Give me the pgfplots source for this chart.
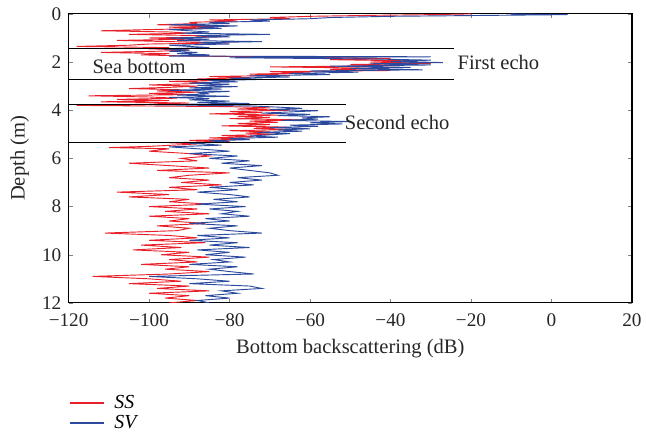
\documentclass[border=0pt]{standalone}
\usepackage{fontspec}
\setmainfont{Liberation Serif}
\usepackage{pgfplots}
\pgfplotsset{compat=1.18}
\definecolor{ssred}{HTML}{E8202A}
\definecolor{svblue}{HTML}{2B4A9E}

\begin{document}
\begin{tikzpicture}
\begin{axis}[
  scale only axis,
  width=425pt, height=218pt,
  xmin=-120, xmax=20, ymin=0, ymax=12,
  y dir=reverse,
  xtick={-120,-100,-80,-60,-40,-20,0,20},
  xticklabels={−120,−100,−80,−60,−40,−20,0,20},
  ytick={0,2,4,6,8,10,12},
  tick pos=both, tick align=inside,
  major tick length=3pt,
  /pgf/number format/assume math mode=true,
  tick label style={font=\fontsize{14.5}{16}\selectfont, text=black!85},
  xticklabel style={yshift=-5pt},
  yticklabel style={xshift=-2pt},
  label style={font=\fontsize{15.5}{17}\selectfont, text=black!85},
  xlabel={Bottom backscattering (dB)},
  ylabel={Depth (m)},
  xlabel style={yshift=-2pt},
  ylabel style={yshift=3pt},
  axis line style={black, line width=0.8pt},
  legend style={at={(0,-0.30)}, anchor=north west, draw=none, fill=none,
    font=\fontsize{15}{17}\selectfont\itshape, row sep=0pt, column sep=5pt, inner xsep=0pt},
  legend cell align=left,
]
\addplot[draw=ssred, line width=0.7pt, forget plot] coordinates {
(-20,0.00) (-30,0.03) (-45,0.06) (-60,0.10) (-70,0.15) (-65,0.20) (-85,0.25) (-78,0.30)
(-90,0.35) (-88,0.40) (-98,0.45) (-80,0.50) (-95,0.55) (-85,0.60) (-100,0.65) (-112,0.70)
(-95,0.75) (-90,0.80) (-105,0.85) (-88,0.90) (-82,0.95) (-100,1.00) (-90,1.05) (-108,1.10)
(-95,1.15) (-80,1.20) (-100,1.25) (-105,1.30) (-118,1.35) (-95,1.40) (-100,1.45) (-90,1.50)
(-98,1.55) (-112,1.60) (-95,1.65) (-102,1.70) (-90,1.75) (-60,1.80) (-40,1.85) (-55,1.90)
(-35,1.95) (-45,2.00) (-30,2.05) (-50,2.10) (-38,2.15) (-70,2.20) (-45,2.25) (-55,2.30)
(-40,2.35) (-70,2.40) (-60,2.45) (-75,2.50) (-65,2.55) (-85,2.60) (-75,2.65) (-88,2.70)
(-80,2.75) (-95,2.80) (-85,2.85) (-90,2.90) (-100,2.95) (-88,3.00) (-95,3.05) (-105,3.10)
(-92,3.15) (-98,3.20) (-88,3.25) (-100,3.30) (-90,3.35) (-115,3.40) (-100,3.45) (-93,3.50)
(-108,3.55) (-95,3.60) (-112,3.65) (-90,3.70) (-100,3.75) (-118,3.80) (-80,3.85) (-70,3.90)
(-78,3.95) (-65,4.00) (-80,4.05) (-72,4.10) (-85,4.15) (-68,4.20) (-78,4.25) (-70,4.30)
(-80,4.35) (-62,4.40) (-75,4.45) (-68,4.50) (-78,4.55) (-70,4.60) (-82,4.65) (-66,4.70)
(-74,4.75) (-64,4.80) (-80,4.85) (-70,4.90) (-76,4.95) (-68,5.00) (-82,5.05) (-74,5.10)
(-85,5.15) (-75,5.20) (-90,5.25) (-80,5.30) (-95,5.35) (-88,5.40) (-100,5.50) (-110,5.55)
(-95,5.60) (-100,5.70) (-90,5.80) (-85,5.90) (-92,6.00) (-88,6.10) (-105,6.20) (-95,6.30)
(-85,6.40) (-98,6.50) (-80,6.60) (-90,6.70) (-95,6.80) (-85,6.90) (-92,7.00) (-82,7.10)
(-95,7.20) (-88,7.30) (-108,7.40) (-95,7.50) (-105,7.60) (-90,7.70) (-95,7.80) (-85,7.90)
(-100,8.00) (-88,8.10) (-96,8.20) (-85,8.30) (-100,8.40) (-90,8.50) (-95,8.60) (-86,8.70)
(-98,8.80) (-90,8.90) (-93,9.00) (-111,9.10) (-95,9.20) (-88,9.30) (-100,9.40) (-86,9.50)
(-102,9.60) (-92,9.70) (-104,9.80) (-90,9.90) (-97,10.00) (-85,10.10) (-95,10.20) (-88,10.30)
(-102,10.40) (-90,10.50) (-96,10.60) (-85,10.70) (-95,10.80) (-114,10.90) (-100,11.00) (-92,11.10)
(-105,11.20) (-90,11.30) (-98,11.40) (-85,11.50) (-100,11.60) (-90,11.70) (-96,11.80) (-88,11.90)
(-95,12.00)};
\addplot[draw=svblue, line width=0.7pt, forget plot] coordinates {
(-10,0.00) (4,0.03) (-15,0.06) (-40,0.10) (-55,0.15) (-60,0.20) (-75,0.25) (-70,0.30)
(-85,0.35) (-80,0.40) (-95,0.45) (-78,0.50) (-88,0.55) (-82,0.60) (-95,0.65) (-90,0.70)
(-85,0.75) (-92,0.80) (-70,0.85) (-88,0.90) (-80,0.95) (-95,1.00) (-85,1.05) (-93,1.10)
(-72,1.15) (-88,1.20) (-80,1.25) (-95,1.30) (-90,1.35) (-85,1.40) (-97,1.45) (-90,1.50)
(-95,1.55) (-88,1.60) (-93,1.65) (-85,1.70) (-95,1.75) (-30,1.78) (-80,1.82) (-45,1.87)
(-30,1.92) (-40,1.97) (-27,2.02) (-45,2.07) (-30,2.12) (-55,2.17) (-35,2.22) (-50,2.27)
(-32,2.32) (-60,2.37) (-48,2.42) (-65,2.47) (-55,2.52) (-75,2.57) (-65,2.62) (-80,2.67)
(-72,2.72) (-85,2.77) (-78,2.82) (-90,2.87) (-80,2.92) (-88,2.97) (-78,3.02) (-90,3.07)
(-82,3.12) (-95,3.17) (-80,3.22) (-88,3.27) (-85,3.32) (-93,3.37) (-80,3.42) (-95,3.47)
(-85,3.52) (-90,3.57) (-80,3.62) (-88,3.67) (-75,3.72) (-100,3.77) (-75,3.82) (-68,3.87)
(-62,3.92) (-70,3.97) (-58,4.02) (-65,4.07) (-72,4.12) (-60,4.17) (-68,4.22) (-55,4.27)
(-62,4.32) (-58,4.37) (-67,4.42) (-50,4.47) (-60,4.52) (-52,4.57) (-65,4.62) (-58,4.67)
(-70,4.72) (-60,4.77) (-68,4.82) (-62,4.87) (-73,4.92) (-65,4.97) (-70,5.02) (-75,5.07)
(-68,5.12) (-80,5.17) (-75,5.22) (-85,5.27) (-80,5.32) (-90,5.37) (-82,5.45) (-95,5.52)
(-88,5.60) (-80,5.70) (-90,5.80) (-78,5.90) (-85,6.00) (-75,6.10) (-82,6.20) (-72,6.30)
(-80,6.40) (-75,6.50) (-70,6.60) (-68,6.70) (-78,6.80) (-72,6.90) (-80,7.00) (-74,7.10)
(-85,7.20) (-78,7.30) (-88,7.40) (-80,7.50) (-75,7.60) (-84,7.70) (-78,7.80) (-88,7.90)
(-76,8.00) (-85,8.10) (-78,8.20) (-82,8.30) (-75,8.40) (-86,8.50) (-80,8.60) (-90,8.70)
(-78,8.80) (-85,8.90) (-80,9.00) (-72,9.10) (-88,9.20) (-80,9.30) (-90,9.40) (-78,9.50)
(-85,9.60) (-75,9.70) (-88,9.80) (-80,9.90) (-86,10.00) (-76,10.10) (-84,10.20) (-80,10.30)
(-90,10.40) (-78,10.50) (-85,10.60) (-80,10.70) (-74,10.80) (-100,10.90) (-88,11.00) (-80,11.10)
(-90,11.20) (-75,11.30) (-72,11.40) (-82,11.50) (-78,11.60) (-86,11.70) (-80,11.80) (-88,11.90)
(-85,12.00)};
\addlegendimage{legend image code/.code={\draw[draw=ssred, line width=1.3pt] (0pt,0pt) -- (26pt,0pt);}}
\addlegendentry{SS}
\addlegendimage{legend image code/.code={\draw[draw=svblue, line width=1.3pt] (0pt,0pt) -- (26pt,0pt);}}
\addlegendentry{SV}
\draw[black, line width=0.6pt] (axis cs:-120,1.44) -- (axis cs:-24.3,1.44);
\draw[black, line width=0.6pt] (axis cs:-120,2.70) -- (axis cs:-24.3,2.70);
\draw[black, line width=0.6pt] (axis cs:-120,3.74) -- (axis cs:-51,3.74);
\draw[black, line width=0.6pt] (axis cs:-120,5.35) -- (axis cs:-51,5.35);
\node[font=\fontsize{15.5}{17}\selectfont, text=black!85] at (axis cs:-102.5,2.2) {Sea bottom};
\node[font=\fontsize{15.5}{17}\selectfont, text=black!85, anchor=west] at (axis cs:-24.5,2.0) {First echo};
\node[font=\fontsize{15.5}{17}\selectfont, text=black!85, anchor=west] at (axis cs:-52.5,4.5) {Second echo};
\end{axis}
\useasboundingbox (-51.75pt,-100pt) rectangle (432.75pt,228.5pt);
\end{tikzpicture}
\end{document}
